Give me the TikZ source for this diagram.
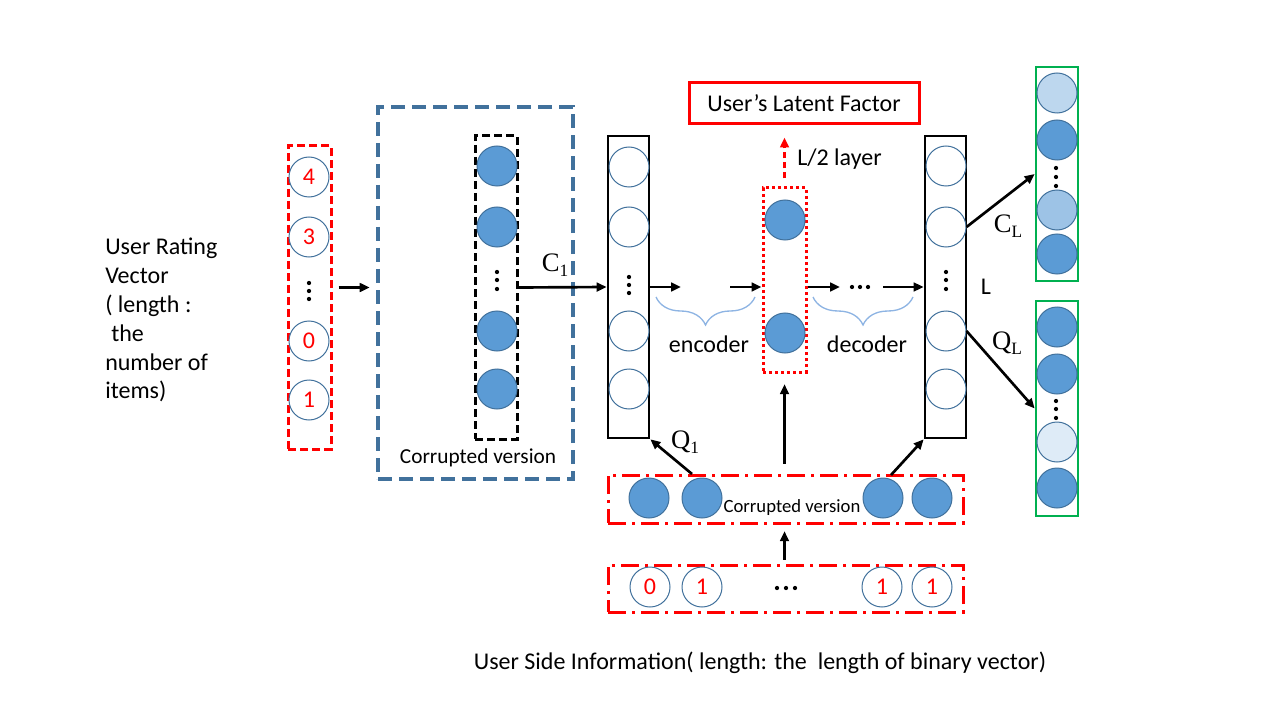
\documentclass[tikz,border=0pt]{standalone}
\usepackage{fontspec}
\setmainfont{Carlito}
\newfontfamily\tnr{Liberation Serif}
\usetikzlibrary{arrows.meta,fit,decorations.pathreplacing}
\definecolor{cfill}{HTML}{5B9BD5}
\definecolor{cline}{HTML}{41719C}
\definecolor{boxblue}{HTML}{41719C}
\definecolor{lightA}{HTML}{BDD7EE}
\definecolor{lightB}{HTML}{9DC3E6}
\definecolor{lightC}{HTML}{DEEBF7}
\definecolor{bracecol}{HTML}{8EB4E3}
\definecolor{grn}{HTML}{00B050}
\begin{document}
\begin{tikzpicture}[x=0.75pt,y=-0.75pt,
  cw/.style={circle, draw=cline, line width=0.75pt, minimum size=30pt, inner sep=0pt, fill=white},
  cf/.style={cw, fill=cfill},
  num/.style={text=red, font=\fontsize{18}{20}\selectfont},
  arr/.style={line width=2pt, -{Triangle[length=7.5pt,width=6.5pt]}},
  colbox/.style={draw=black, line width=2pt, inner sep=0pt},
  txt/.style={font=\fontsize{18}{21.6}\selectfont},
  lab/.style={font=\tnr\fontsize{20}{24}\selectfont, inner sep=0pt},
  dashred/.style={draw=red, line width=2.25pt, dash pattern=on 6pt off 3pt, inner sep=0pt},
  dashblack/.style={draw=black, line width=2.25pt, dash pattern=on 6pt off 3pt, inner sep=0pt},
  dotred/.style={draw=red, line width=2.25pt, dash pattern=on 2.25pt off 2.25pt, inner sep=0pt},
  dashdotred/.style={draw=red, line width=2.25pt, dash pattern=on 13.5pt off 4.5pt on 2.25pt off 4.5pt, inner sep=0pt},
  greenbox/.style={draw=grn, line width=2pt, inner sep=0pt},
  bracestyle/.style={draw=bracecol, line width=1pt, decorate, decoration={brace, amplitude=21pt, mirror}}
]
\useasboundingbox (0,0) rectangle (1280,720);

% left label
\node[txt, align=left, anchor=north west, inner sep=0pt] (rvlab) at (105,238)
  {User Rating\\Vector\\( length :\\\hspace*{0.25em}the\\number of\\items)};

% user rating vector
\node[dashred, fit={(288,146) (331,449)}] (rv) {};
\node[cw,num] (rv1) at (309,177) {4};
\node[cw,num] (rv2) at (309,237) {3};
\node[cw,num] (rv3) at (309,341) {0};
\node[cw,num] (rv4) at (309,400) {1};
\foreach \y in {283,291,299} \fill (309,\y) circle[radius=1.6pt];

% corrupted version (big blue)
\node[draw=boxblue, line width=3.4pt, dash pattern=on 10.5pt off 5.25pt, inner sep=0pt, fit={(378,107) (573,479)}] (cv) {};
\node[dashblack, fit={(475,136) (517,439)}] (cb) {};
\node[cf] (cb1) at (497,166) {};
\node[cf] (cb2) at (497,227) {};
\node[cf] (cb3) at (497,331) {};
\node[cf] (cb4) at (497,389) {};
\foreach \y in {272,280,289} \fill (497,\y) circle[radius=1.6pt];
\node[font=\fontsize{16}{18}\selectfont] (cvlab) at (478,458) {Corrupted version};

\draw[arr, shorten <=4.5pt, shorten >=4.5pt] (rv.east |- cb.east) -- (cv.west |- cb.east);

% first column
\node[colbox, fit={(608,136) (649,438)}] (c1) {};
\node[cw] (c11) at (629,167) {};
\node[cw] (c12) at (629,227) {};
\node[cw] (c13) at (629,331) {};
\node[cw] (c14) at (629,389) {};
\foreach \y in {277,285,293} \fill (629,\y) circle[radius=1.6pt];

\draw[arr] (cb.east) -- (c1.west);
\node[lab] (c1lab) at (555,265) {C\raisebox{-4pt}{\fontsize{13}{15}\selectfont 1}};

% encoder
\coordinate (e1) at (681,287);
\coordinate (e2) at (730,287);
\draw[arr] (c1.east |- e1) -- (e1);
\draw[bracestyle] (656,297) -- (755,297);
\node[txt, anchor=base] (enc) at (709,352) {encoder};

% latent layer
\node[dotred, fit={(763,188) (806,372)}] (lat) {};
\node[cf] (lat1) at (785,220) {};
\node[cf] (lat2) at (785,333) {};
\draw[arr] (e2) -- (lat.west |- e2);

\node[draw=red, line width=2.25pt, inner sep=0pt, minimum width=172.5pt, minimum height=30.75pt, txt] (ulf) at (804,103.5) {User’s Latent Factor};
\draw[red, line width=2.25pt, dash pattern=on 4.5pt off 3pt, -{Triangle[length=7.5pt,width=6.5pt]}, shorten <=6pt, shorten >=9pt] (lat.north) -- (lat.north |- ulf.south);
\node[txt, anchor=west, inner sep=0pt] (l2) at (797,159) {L/2 layer};

% decoder
\node[colbox, fit={(925,136) (966,438)}] (c2) {};
\node[cw] (c21) at (946,166) {};
\node[cw] (c22) at (946,227) {};
\node[cw] (c23) at (946,331) {};
\node[cw] (c24) at (946,389) {};
\foreach \y in {272,280,289} \fill (946,\y) circle[radius=1.6pt];

\coordinate (d1) at (840,287);
\coordinate (d2) at (883,287);
\draw[arr] (lat.east |- d1) -- (d1);
\foreach \x in {852,860,868} \fill (\x,287) circle[radius=1.6pt];
\draw[arr] (d2) -- (c2.west |- d2);
\draw[bracestyle] (813,297) -- (913,297);
\node[txt, anchor=base] (dec) at (867,352) {decoder};
\node[txt] (Llab) at (986,287) {L};

% output boxes
\node[greenbox, fit={(1036,67) (1078,281)}] (g1) {};
\node[cw, fill=lightA] (g11) at (1057,93) {};
\node[cf] (g12) at (1057,140) {};
\node[cw, fill=lightB] (g13) at (1057,210) {};
\node[cf] (g14) at (1057,254) {};
\foreach \y in {168,177,186} \fill (1056,\y) circle[radius=1.6pt];

\node[greenbox, fit={(1036,301) (1078,516)}] (g2) {};
\node[cf] (g21) at (1057,327) {};
\node[cf] (g22) at (1057,374) {};
\node[cw, fill=lightC] (g23) at (1057,442) {};
\node[cf] (g24) at (1057,488) {};
\foreach \y in {401,409,418} \fill (1056,\y) circle[radius=1.6pt];

\draw[arr] (c22.east) -- (g1.west);
\draw[arr] (c23.east) -- (g2.west);
\node[lab] (cllab) at (1008,226) {C\raisebox{-4pt}{\fontsize{13}{15}\selectfont L}};
\node[lab] (qllab) at (1007,343) {Q\raisebox{-4pt}{\fontsize{13}{15}\selectfont L}};

% side information corrupted
\node[dashdotred, fit={(608,475) (963,523)}] (cs) {};
\node[cf] (cs1) at (649,498) {};
\node[cf] (cs2) at (702,498) {};
\node[cf] (cs3) at (883,498) {};
\node[cf] (cs4) at (932,498) {};
\node[font=\fontsize{14}{16}\selectfont] (cslab) at (792,508) {Corrupted version};

\coordinate (q1s) at (692,474);
\coordinate (q2s) at (891,475);
\draw[arr] (q1s) -- (c1.south east);
\draw[arr] (q2s) -- (c2.south west);
\node[lab] (q1lab) at (685,442) {Q\raisebox{-4pt}{\fontsize{13}{15}\selectfont 1}};
\draw[arr, shorten <=7.5pt, shorten >=8pt] (cs.north -| lat.south) -- (lat.south);

% side information
\node[dashdotred, fit={(608,565) (963,612)}] (bs) {};
\node[cw,num] (bs1) at (650,587) {0};
\node[cw,num] (bs2) at (702,587) {1};
\node[cw,num] (bs3) at (882,587) {1};
\node[cw,num] (bs4) at (932,587) {1};
\foreach \x in {777,786,795} \fill (\x,588) circle[radius=1.6pt];
\draw[arr, shorten <=3pt, shorten >=5pt] (bs.north -| lat.south) -- (cs.south -| lat.south);

\node[txt] (silab) at (760,663) {User Side Information( length: the~ length of binary vector)};
\end{tikzpicture}
\end{document}
